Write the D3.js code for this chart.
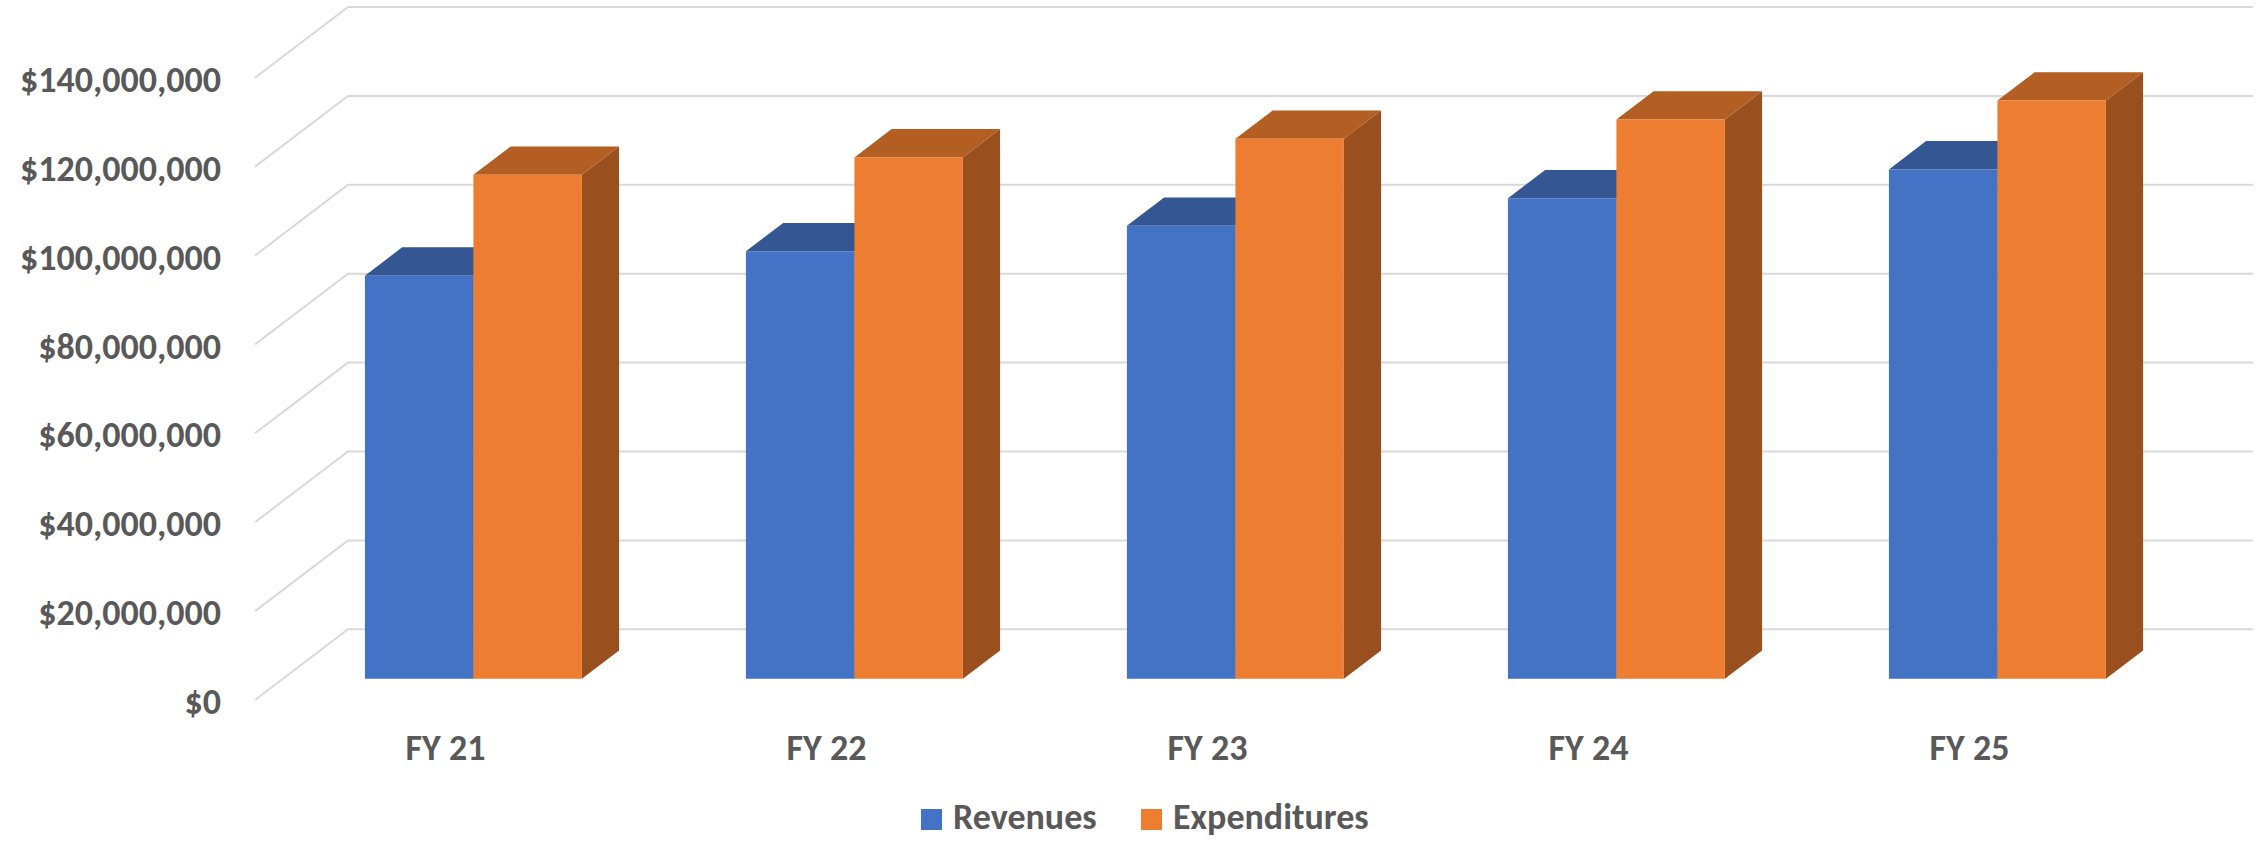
<!DOCTYPE html>
<html>
<head>
<meta charset="utf-8">
<script src="https://cdn.jsdelivr.net/npm/d3@7"></script>
<style>
  html, body { margin: 0; padding: 0; background: #ffffff; }
  svg { display: block; }
</style>
</head>
<body>
<svg id="chart" width="2262" height="841"></svg>
<script>
// ---------- data ----------
const categories   = ["FY 21", "FY 22", "FY 23", "FY 24", "FY 25"];
const seriesNames  = ["Revenues", "Expenditures"];
const revenues     = [90.7e6, 96.2e6, 101.9e6, 108.1e6, 114.6e6];
const expenditures = [113.4e6, 117.3e6, 121.5e6, 125.8e6, 130.1e6];
const yTicks       = [0, 20e6, 40e6, 60e6, 80e6, 100e6, 120e6, 140e6];

// ---------- style ----------
const frontColors = ["#4472C4", "#ED7D31"];
const topColors   = ["#345794", "#B35E22"];
const sideColors  = ["#2D4C82", "#994F1E"];
const textColor   = "#595959";
const gridColor   = "#D9D9D9";

function hasFont(name) {
  const c = document.createElement("canvas").getContext("2d");
  const s = "$140,000,000 Revenues Expenditures";
  c.font = "bold 36px monospace";
  const a = c.measureText(s).width;
  c.font = `bold 36px "${name}", monospace`;
  const b = c.measureText(s).width;
  return Math.abs(a - b) > 0.5;
}
let fontFamily, fontSize;
if (hasFont("Carlito")) { fontFamily = "Carlito"; fontSize = 36; }
else { fontFamily = "'Open Sans'"; fontSize = 31.5; }

const svg = d3.select("#chart");
svg.style("font-family", fontFamily);

// ---------- geometry (oblique 3D projection) ----------
const DX = 93, DY = 70.7;      // full floor depth offset
const d0 = 0.30, d1 = 0.70;    // bar front / back depth fractions

const x = d3.scaleBand().domain(categories).range([255, 2160]).padding(0);
const inner = d3.scaleBand().domain(seriesNames)
  .range([0, x.bandwidth()]).paddingInner(0).paddingOuter(0.756);
const y = d3.scaleLinear().domain([0, 140e6]).range([700, 700 - 7 * 88.9]);

const P = (px, py, d) => [px + d * DX, py - d * DY];

// ---------- gridlines (side wall diagonals + back wall) ----------
const grid = svg.append("g").attr("stroke", gridColor).attr("stroke-width", 2).attr("fill", "none");
yTicks.forEach(v => {
  const a = P(x.range()[0], y(v), 0);
  const b = P(x.range()[0], y(v), 1);
  const c = P(x.range()[1], y(v), 1);
  grid.append("path").attr("d", d3.line()([a, b, c]));
});

// ---------- y axis labels ----------
const yAxis = svg.append("g")
  .attr("transform", `translate(${x.range()[0]},0)`)
  .call(d3.axisLeft(y).tickValues(yTicks).tickFormat(d3.format("$,.0f")).tickSize(0).tickPadding(34));
yAxis.select(".domain").remove();
yAxis.selectAll("text")
  .attr("fill", textColor)
  .attr("font-size", fontSize)
  .attr("font-weight", "bold")
  .attr("font-family", fontFamily)
  .attr("dy", "0.38em")
  .attr("y", 0);

// ---------- bars ----------
const dataBySeries = [revenues, expenditures];
const bars = svg.append("g");
categories.forEach((cat, i) => {
  seriesNames.forEach((s, j) => {
    const v = dataBySeries[j][i];
    const xl = x(cat) + inner(s);
    const xr = xl + inner.bandwidth();
    const yb = y(0), yt = y(v);
    const fTL = P(xl, yt, d0), fTR = P(xr, yt, d0), fBR = P(xr, yb, d0), fBL = P(xl, yb, d0);
    const bTL = P(xl, yt, d1), bTR = P(xr, yt, d1), bBR = P(xr, yb, d1);
    bars.append("path").attr("d", d3.line()([fTR, bTR, bBR, fBR]) + "Z").attr("fill", sideColors[j]);
    bars.append("path").attr("d", d3.line()([fTL, bTL, bTR, fTR]) + "Z").attr("fill", topColors[j]);
    bars.append("path").attr("d", d3.line()([fTL, fTR, fBR, fBL]) + "Z").attr("fill", frontColors[j]);
  });
});

// ---------- x axis labels ----------
const xAxis = svg.append("g")
  .attr("transform", `translate(0,${y(0)})`)
  .call(d3.axisBottom(x).tickSize(0).tickPadding(0));
xAxis.select(".domain").remove();
xAxis.selectAll("text")
  .attr("fill", textColor)
  .attr("font-size", fontSize)
  .attr("font-weight", "bold")
  .attr("font-family", fontFamily)
  .attr("y", 60)
  .attr("dy", 0);

// ---------- legend ----------
const legendItems = [
  { name: seriesNames[0], color: frontColors[0], sx: 921, tx: 953 },
  { name: seriesNames[1], color: frontColors[1], sx: 1141, tx: 1173 }
];
const legend = svg.append("g");
legendItems.forEach(it => {
  legend.append("rect").attr("x", it.sx).attr("y", 809).attr("width", 21).attr("height", 21).attr("fill", it.color);
  legend.append("text").attr("x", it.tx).attr("y", 829)
    .attr("fill", textColor).attr("font-size", fontSize).attr("font-weight", "bold")
    .attr("font-family", fontFamily).text(it.name);
});
</script>
</body>
</html>
